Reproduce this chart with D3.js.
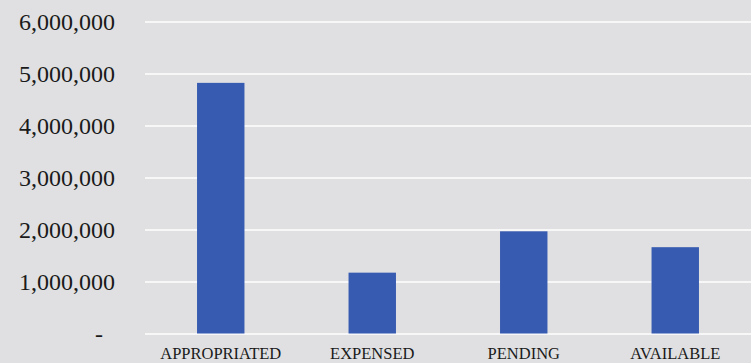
<!DOCTYPE html>
<html>
<head>
<meta charset="utf-8">
<script src="https://cdn.jsdelivr.net/npm/d3@7"></script>
<style>
    html, body { margin: 0; padding: 0; background: #e0e0e2; }
    svg { display: block; }
</style>
</head>
<body>
<div id="chart"></div>
<script>
// budget status
const categories = ["APPROPRIATED", "EXPENSED", "PENDING", "AVAILABLE"];
const amounts = [4820000, 1170000, 1965000, 1660000];
const yTicks = [0, 1000000, 2000000, 3000000, 4000000, 5000000, 6000000];

document.addEventListener('DOMContentLoaded', function() {
    const width = 751, height = 363;
    const margin = {top: 21.5, right: 0, bottom: 29.5, left: 145};

    const svg = d3.select('#chart').append('svg')
        .attr('width', width)
        .attr('height', height);

    svg.append('rect')
        .attr('width', width)
        .attr('height', height)
        .attr('fill', '#e0e0e2');

    const x = d3.scaleBand()
        .domain(categories)
        .range([margin.left, width - margin.right])
        .paddingInner(0.687)
        .paddingOuter(0.3435);

    const y = d3.scaleLinear()
        .domain([0, 6000000])
        .range([height - margin.bottom, margin.top]);

    // horizontal grid + value labels
    const yAxis = d3.axisLeft(y)
        .tickValues(yTicks)
        .tickSize(-(width - margin.left - margin.right))
        .tickPadding(30)
        .tickFormat(d => d === 0 ? '-' : d3.format(',')(d));

    const gy = svg.append('g')
        .attr('transform', `translate(${margin.left},0)`)
        .call(yAxis);
    gy.select('.domain').remove();
    gy.selectAll('.tick line')
        .attr('stroke', '#ffffff')
        .attr('stroke-width', 1.6);
    gy.selectAll('.tick text')
        .attr('fill', '#1a1a1a')
        .style('font-family', '"Liberation Serif", serif')
        .style('font-size', '24px');
    gy.selectAll('.tick text')
        .filter(d => d === 0)
        .attr('dx', -12);

    svg.selectAll('rect.bar')
        .data(amounts)
        .enter().append('rect')
        .attr('class', 'bar')
        .attr('x', (d, i) => x(categories[i]))
        .attr('y', d => y(d))
        .attr('width', x.bandwidth())
        .attr('height', d => y(0) - y(d))
        .attr('fill', '#375bb1');

    // category labels
    const xAxis = d3.axisBottom(x).tickSize(0).tickPadding(14);
    const gx = svg.append('g')
        .attr('transform', `translate(0,${y(0)})`)
        .call(xAxis);
    gx.select('.domain').remove();
    gx.selectAll('.tick text')
        .attr('fill', '#1a1a1a')
        .style('font-family', '"Liberation Serif", serif')
        .style('font-size', '16.5px');
});
</script>
</body>
</html>
